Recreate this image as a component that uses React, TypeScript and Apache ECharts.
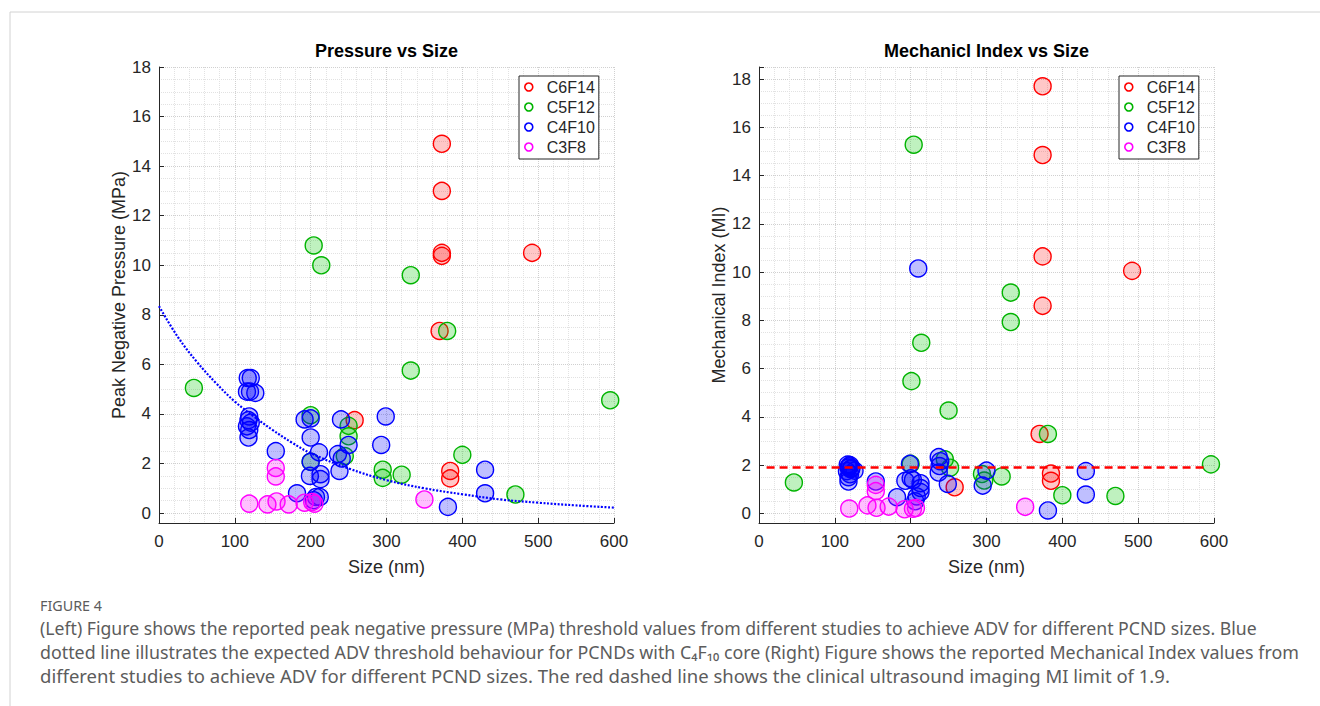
import React, { useEffect, useRef } from 'react';
import * as echarts from 'echarts';

const FONT = '"Liberation Sans", Arial, sans-serif';
const CAPTION_FONT = '"Noto Sans", sans-serif';

const seriesNames = ['C6F14', 'C5F12', 'C4F10', 'C3F8'];
const edgeColors = ['#ff0000', '#00b400', '#0000ff', '#ff00ff'];
const faceColors = ['rgba(255,0,0,0.22)', 'rgba(0,200,0,0.25)', 'rgba(0,0,255,0.25)', 'rgba(255,0,255,0.25)'];

// Left panel: peak negative pressure (MPa) vs size (nm)
const pressureC6F14 = [
  [373, 14.9], [373, 13.0], [373, 10.5], [373, 10.38], [492, 10.5],
  [370, 7.35], [258, 3.75], [384, 1.7], [384, 1.4],
];
const pressureC5F12 = [
  [46, 5.05], [204, 10.8], [214, 10.0], [332, 9.6], [332, 5.75], [380, 7.35],
  [595, 4.55], [200, 3.95], [200, 2.07], [250, 3.52], [250, 3.1], [245, 2.3],
  [295, 1.75], [295, 1.42], [320, 1.55], [400, 2.35], [470, 0.75],
];
const pressureC4F10 = [
  [117, 5.45], [121, 5.45], [116, 4.9], [120, 4.9], [127, 4.85],
  [119, 3.9], [118, 3.75], [121, 3.65], [116, 3.5], [119, 3.35], [118, 3.05],
  [154, 2.5], [192, 3.78], [200, 3.82], [200, 3.05], [200, 2.07], [211, 2.45],
  [199, 1.5], [213, 1.57], [213, 1.37], [182, 0.8], [207, 0.65], [212, 0.65],
  [204, 0.52], [240, 3.78], [236, 2.38], [241, 2.2], [238, 1.7], [250, 2.75],
  [293, 2.75], [299, 3.9], [430, 1.75], [430, 0.8], [381, 0.25],
];
const pressureC3F8 = [
  [154, 1.82], [154, 1.48], [119, 0.38], [143, 0.35], [155, 0.47], [171, 0.35],
  [192, 0.42], [202, 0.45], [205, 0.38], [350, 0.55],
];
// Blue dotted expected-threshold curve for C4F10
const c4f10Threshold = [
  [0, 8.35], [25, 7.1], [50, 6.1], [75, 5.25], [100, 4.5], [125, 3.9],
  [150, 3.35], [175, 2.85], [200, 2.42], [250, 1.8], [300, 1.33], [350, 1.0],
  [400, 0.76], [450, 0.55], [500, 0.42], [550, 0.31], [600, 0.22],
];

// Right panel: mechanical index vs size (nm)
const miC6F14 = [
  [374, 17.7], [374, 14.85], [374, 10.65], [492, 10.05], [374, 8.6],
  [370, 3.29], [385, 1.65], [385, 1.35], [258, 1.08],
];
const miC5F12 = [
  [46, 1.28], [204, 15.28], [214, 7.07], [201, 5.48], [250, 4.26], [332, 9.15],
  [332, 7.93], [381, 3.29], [400, 0.75], [470, 0.72], [596, 2.03], [320, 1.53],
  [294, 1.63], [297, 1.36], [245, 2.24], [252, 1.89], [200, 2.05],
];
const miC4F10 = [
  [117, 2.02], [120, 2.0], [119, 1.95], [118, 1.9], [122, 1.88], [121, 1.83],
  [116, 1.75], [126, 1.77], [120, 1.62], [118, 1.5], [118, 1.32],
  [154, 1.32], [182, 0.67], [193, 1.35], [199, 2.05], [200, 1.45], [203, 1.38],
  [213, 1.25], [213, 1.05], [213, 0.88], [208, 0.7], [206, 0.5], [210, 10.15],
  [237, 2.33], [239, 2.16], [238, 1.96], [237, 1.69], [249, 1.22], [300, 1.77],
  [295, 1.15], [431, 1.75], [431, 0.78], [381, 0.12],
];
const miC3F8 = [
  [119, 0.2], [143, 0.33], [154, 1.18], [154, 0.92], [155, 0.23], [171, 0.28],
  [192, 0.17], [203, 0.19], [207, 0.22], [351, 0.27],
];
const miLimit = [[10, 1.9], [590, 1.9]];

const titles = ['Pressure vs Size', 'Mechanicl Index vs Size'];
const yNames = ['Peak Negative Pressure (MPa)', 'Mechanical Index (MI)'];
const xName = 'Size (nm)';
const yMax = [18, 18.5];

const figureLabel = 'FIGURE 4';
const captionLines = [
  '(Left) Figure shows the reported peak negative pressure (MPa) threshold values from different studies to achieve ADV for different PCND sizes. Blue',
  'dotted line illustrates the expected ADV threshold behaviour for PCNDs with C\u2084F\u2081\u2080 core (Right) Figure shows the reported Mechanical Index values from',
  'different studies to achieve ADV for different PCND sizes. The red dashed line shows the clinical ultrasound imaging MI limit of 1.9.',
];
const captionWidths = [1218, 1260, 1130];

const AXIS_COLOR = '#262626';

function measure(text: string, font: string): number {
  const c = document.createElement('canvas').getContext('2d');
  if (!c) return 1;
  c.font = font;
  return c.measureText(text).width || 1;
}

function xAxisFor(gridIndex: number) {
  return {
    gridIndex, type: 'value', min: 0, max: 600, interval: 100,
    name: xName, nameLocation: 'middle', nameGap: 35,
    nameTextStyle: { fontSize: 18, color: AXIS_COLOR, fontFamily: FONT },
    axisLine: { show: true, onZero: false, lineStyle: { color: AXIS_COLOR, width: 1 } },
    axisTick: { show: true, inside: true, length: 5, lineStyle: { color: AXIS_COLOR } },
    axisLabel: { fontSize: 17, color: AXIS_COLOR, margin: 10, fontFamily: FONT },
    splitLine: { show: true, lineStyle: { color: '#d0d0d0', type: 'dotted', width: 1 } },
    minorTick: { show: false, splitNumber: 5 },
    minorSplitLine: { show: true, lineStyle: { color: '#e2e2e2', type: 'dotted', width: 1 } },
  };
}

function yAxisFor(gridIndex: number) {
  return {
    gridIndex, type: 'value', min: -0.4, max: yMax[gridIndex], splitNumber: 9,
    name: yNames[gridIndex], nameLocation: 'middle', nameGap: 30,
    nameTextStyle: { fontSize: 18, color: AXIS_COLOR, fontFamily: FONT },
    axisLine: { show: true, onZero: false, lineStyle: { color: AXIS_COLOR, width: 1 } },
    axisTick: { show: true, inside: true, length: 5, lineStyle: { color: AXIS_COLOR } },
    axisLabel: {
      fontSize: 17, color: AXIS_COLOR, margin: 8, fontFamily: FONT,
      formatter: (v: number) => (Math.abs(v / 2 - Math.round(v / 2)) < 1e-6 ? String(Math.round(v)) : ''),
    },
    splitLine: { show: true, lineStyle: { color: '#d0d0d0', type: 'dotted', width: 1 } },
    minorTick: { show: false, splitNumber: 4 },
    minorSplitLine: { show: true, lineStyle: { color: '#e2e2e2', type: 'dotted', width: 1 } },
  };
}

function scatterSeries(data: number[][][], axisIndex: number) {
  return seriesNames.map((name, i) => ({
    type: 'scatter', name, xAxisIndex: axisIndex, yAxisIndex: axisIndex,
    data: data[i], symbol: 'circle', symbolSize: 17,
    itemStyle: { color: faceColors[i], borderColor: edgeColors[i], borderWidth: 1.4, opacity: 1 },
    emphasis: { disabled: true },
  }));
}

function legendFor(left: number) {
  return {
    orient: 'vertical', left, top: 76,
    data: seriesNames.map((n, i) => ({
      name: n, icon: 'circle',
      itemStyle: { color: '#ffffff', borderColor: edgeColors[i], borderWidth: 1.6 },
    })),
    itemWidth: 26, itemHeight: 8, itemGap: 4, padding: [3, 4, 4, 5],
    backgroundColor: '#ffffff', borderColor: AXIS_COLOR, borderWidth: 1, borderRadius: 0,
    textStyle: { fontSize: 16, color: AXIS_COLOR, fontFamily: FONT, lineHeight: 16 },
    selectedMode: false,
  };
}

export default function App() {
  const ref = useRef<HTMLDivElement>(null);
  useEffect(() => {
    if (!ref.current) return;
    const chart = echarts.init(ref.current, null, { renderer: 'svg' });

    const capFont = `18px ${CAPTION_FONT}`;
    const captionEls = captionLines.map((t, i) => ({
      type: 'text', x: 40, y: 628 + i * 24,
      scaleX: captionWidths[i] / measure(t, capFont), scaleY: 1,
      style: { text: t, fontSize: 18, fontFamily: CAPTION_FONT, fill: '#5c5c5c', verticalAlign: 'middle', textVerticalAlign: 'middle' },
    }));
    const figFont = `14px ${CAPTION_FONT}`;

    const option: any = {
      animation: false,
      backgroundColor: '#ffffff',
      grid: [
        { left: 159, top: 67, width: 455, height: 456 },
        { left: 759, top: 67, width: 455, height: 456 },
      ],
      xAxis: [xAxisFor(0), xAxisFor(1)],
      yAxis: [yAxisFor(0), yAxisFor(1)],
      legend: [legendFor(519), legendFor(1119)],
      series: [
        ...scatterSeries([pressureC6F14, pressureC5F12, pressureC4F10, pressureC3F8], 0),
        {
          type: 'line', name: 'C4F10 threshold', xAxisIndex: 0, yAxisIndex: 0, data: c4f10Threshold,
          smooth: 0.4, symbol: 'none', z: 5,
          lineStyle: { color: '#0000ff', width: 2.2, type: [2, 1.6] },
          emphasis: { disabled: true },
        },
        ...scatterSeries([miC6F14, miC5F12, miC4F10, miC3F8], 1),
        {
          type: 'line', name: 'MI limit', xAxisIndex: 1, yAxisIndex: 1, data: miLimit,
          symbol: 'none', z: 5,
          lineStyle: { color: '#ff0000', width: 2.5, type: [8, 5] },
          emphasis: { disabled: true },
        },
      ],
      graphic: [
        { type: 'polyline', shape: { points: [[10, 706], [10, 12], [1320, 12]] }, style: { stroke: '#d2d2d2', lineWidth: 1, fill: 'none' }, silent: true },
        { type: 'text', x: 386.5, y: 51, style: { text: titles[0], fontSize: 18, fontWeight: 'bold', fontFamily: FONT, fill: '#000', align: 'center', textAlign: 'center', verticalAlign: 'middle', textVerticalAlign: 'middle' } },
        { type: 'text', x: 986.5, y: 51, style: { text: titles[1], fontSize: 18, fontWeight: 'bold', fontFamily: FONT, fill: '#000', align: 'center', textAlign: 'center', verticalAlign: 'middle', textVerticalAlign: 'middle' } },
        {
          type: 'text', x: 40, y: 606, scaleX: 62 / measure(figureLabel, figFont), scaleY: 1,
          style: { text: figureLabel, fontSize: 14, fontFamily: CAPTION_FONT, fill: '#5c5c5c', verticalAlign: 'middle', textVerticalAlign: 'middle' },
        },
        ...captionEls,
      ],
    };
    chart.setOption(option);
    return () => chart.dispose();
  }, []);
  return <div ref={ref} style={{ position: 'absolute', left: 0, top: 0, width: 1320, height: 706 }} />;
}
